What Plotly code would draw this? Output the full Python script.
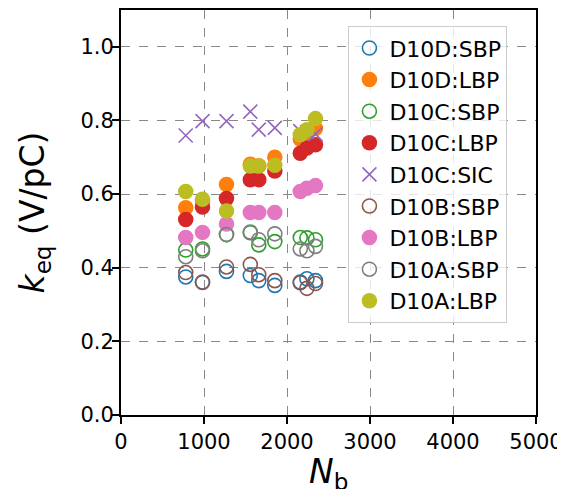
import plotly.graph_objects as go

N_b = [780, 982, 1271, 1558, 1660, 1853, 2160, 2240, 2343]

D10D_SBP = [0.375, 0.360, 0.390, 0.379, 0.365, 0.352, 0.361, 0.370, 0.365]
D10D_LBP = [0.563, 0.580, 0.626, 0.681, 0.677, 0.700, 0.749, 0.765, 0.778]
D10C_SBP = [0.448, 0.451, 0.490, 0.495, 0.462, 0.471, 0.482, 0.481, 0.476]
D10C_LBP = [0.531, 0.565, 0.588, 0.639, 0.639, 0.663, 0.711, 0.725, 0.734]
D10C_SIC = [0.759, 0.798, 0.798, 0.824, 0.775, 0.780, 0.771, 0.768, 0.763]
D10B_SBP = [0.387, 0.361, 0.402, 0.409, 0.381, 0.365, 0.359, 0.344, 0.357]
D10B_LBP = [0.482, 0.496, 0.519, 0.550, 0.550, 0.550, 0.607, 0.616, 0.623]
D10A_SBP = [0.430, 0.446, 0.490, 0.497, 0.476, 0.492, 0.451, 0.446, 0.458]
D10A_LBP = [0.607, 0.586, 0.554, 0.676, 0.676, 0.678, 0.761, 0.775, 0.805]

series = [
    ("D10D:SBP", D10D_SBP, "#1f77b4", "open"),
    ("D10D:LBP", D10D_LBP, "#ff7f0e", "filled"),
    ("D10C:SBP", D10C_SBP, "#2ca02c", "open"),
    ("D10C:LBP", D10C_LBP, "#d62728", "filled"),
    ("D10C:SIC", D10C_SIC, "#9467bd", "x"),
    ("D10B:SBP", D10B_SBP, "#8c564b", "open"),
    ("D10B:LBP", D10B_LBP, "#e377c2", "filled"),
    ("D10A:SBP", D10A_SBP, "#7f7f7f", "open"),
    ("D10A:LBP", D10A_LBP, "#bcbd22", "filled"),
]

fig = go.Figure()
for i, (name, vals, color, kind) in enumerate(series):
    if kind == "open":
        marker = dict(symbol="circle-open", size=14, color=color, line=dict(width=1.6, color=color))
    elif kind == "filled":
        marker = dict(symbol="circle", size=15.5, color=color, line=dict(width=0))
    else:
        marker = dict(symbol="x-thin", size=14, color=color, line=dict(width=1.6, color=color))
    fig.add_trace(go.Scatter(x=N_b, y=vals, mode="markers", name=name,
                             marker=marker, legendgroup=f"g{i}", cliponaxis=False))

font = "DejaVu Sans"
axis_common = dict(
    showline=True, linecolor="black", linewidth=1.8, mirror=True,
    ticks="outside", ticklen=7, tickwidth=1.5, tickcolor="black",
    tickfont=dict(family=font, size=21, color="black"),
    showgrid=True, gridcolor="#888888", griddash="dash", gridwidth=0.8,
    zeroline=False, automargin=False,
)

fig.update_layout(
    width=557, height=481,
    margin=dict(l=113, r=29, t=2, b=74),
    paper_bgcolor="white", plot_bgcolor="white",
    showlegend=True,
    legend=dict(
        x=0.548, y=0.96, xanchor="left", yanchor="top",
        bgcolor="rgba(255,255,255,0.8)", bordercolor="#cccccc", borderwidth=1,
        font=dict(family=font, size=22, color="black"),
        tracegroupgap=0,
    ),
    xaxis=dict(range=[0, 5000], tickvals=[0, 1000, 2000, 3000, 4000, 5000],
               **axis_common),
    yaxis=dict(range=[0, 1.1], tickvals=[0, 0.2, 0.4, 0.6, 0.8, 1.0], tickformat=".1f",
               ticklabelstandoff=-6,
               title=dict(text="<i>k</i><sub>eq</sub> (V/pC)", font=dict(family=font, size=33, color="black"), standoff=26),
               **axis_common),
    annotations=[dict(
        text="<i>N</i><sub>b</sub>", xref="paper", yref="paper", x=0.5, y=0,
        xanchor="center", yanchor="top", yshift=-35, showarrow=False,
        font=dict(family=font, size=33, color="black"),
    )],
)

fig.write_html("out.html")
